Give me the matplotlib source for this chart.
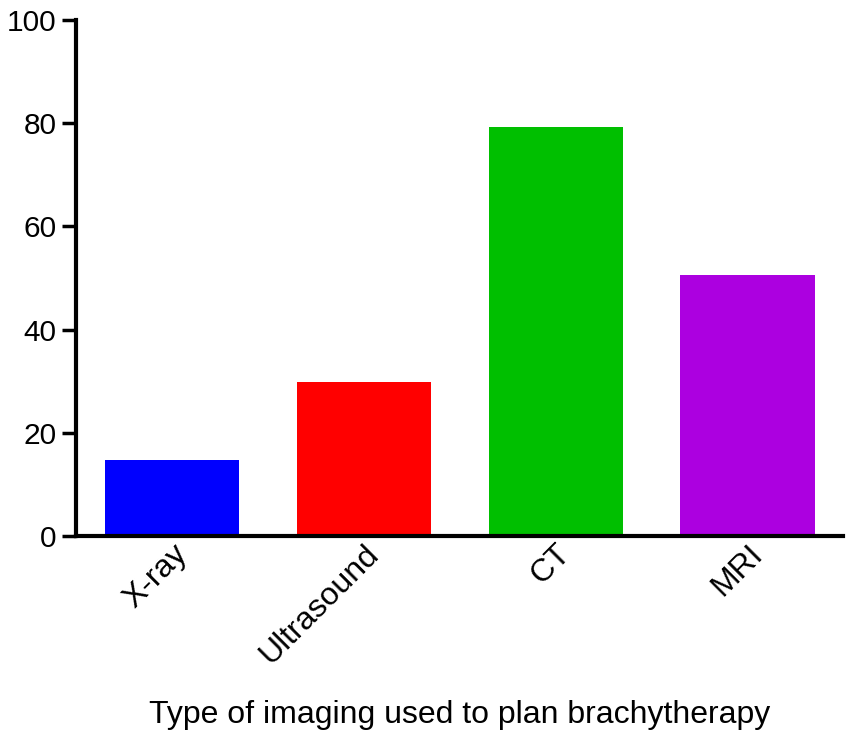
import matplotlib
matplotlib.use("Agg")
import matplotlib.pyplot as plt

categories = ["X-ray", "Ultrasound", "CT", "MRI"]
values = [14.7, 29.8, 79.3, 50.6]
colors = ["#0000ff", "#ff0000", "#00bf00", "#ac00e0"]
yticks = [0, 20, 40, 60, 80, 100]
xlabel = "Type of imaging used to plan brachytherapy"

plt.rcParams['font.family'] = ['Liberation Sans', 'DejaVu Sans']

fig = plt.figure(figsize=(8.49, 7.36), dpi=100)
ax = fig.add_axes([0.0895, 0.2717, 0.904, 0.7011])
x = range(len(categories))
ax.bar(x, values, width=0.70, color=colors, edgecolor='none')
ax.set_xlim(-0.5, 3.5)
ax.set_ylim(0, 100)
ax.set_yticks(yticks)
ax.set_xticks(list(x))
ax.set_xticklabels(categories, rotation=45, ha='right', rotation_mode='anchor', fontsize=23)
ax.tick_params(axis='y', labelsize=21.5, length=10, width=2.5, pad=4)
ax.tick_params(axis='x', length=0, pad=2)
for s in ['top', 'right']:
    ax.spines[s].set_visible(False)
for s in ['left', 'bottom']:
    ax.spines[s].set_linewidth(3)
ax.set_xlabel(xlabel, fontsize=23, labelpad=22)
fig.savefig("out.png", dpi=100)
